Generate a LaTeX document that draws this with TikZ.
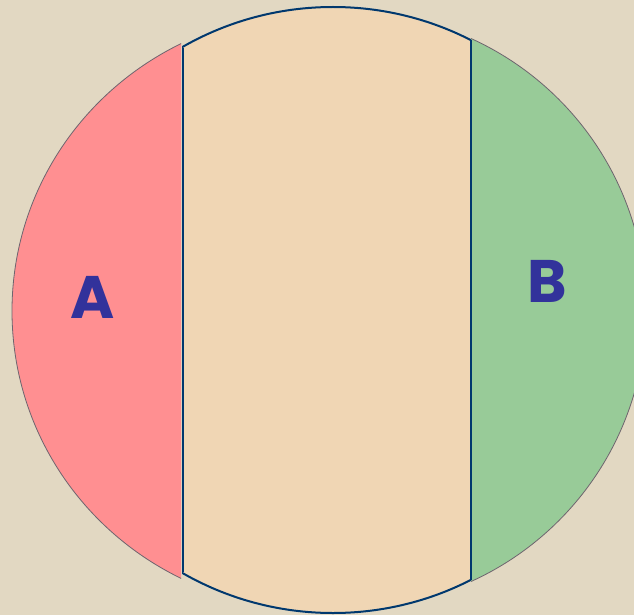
\documentclass[tikz,border=0pt]{standalone}
\usepackage{fontspec}
\newfontfamily\lblfont{Poppins}
\definecolor{bgc}{RGB}{226,216,194}
\definecolor{pinkc}{RGB}{255,143,145}
\definecolor{greenc}{RGB}{152,203,152}
\definecolor{peachc}{RGB}{240,214,180}
\definecolor{navyc}{RGB}{0,56,110}
\definecolor{letterc}{RGB}{50,50,155}
\definecolor{edgec}{RGB}{110,100,110}
\tikzset{
  navyline/.style={draw=navyc, line width=2pt},
  seglabel/.style={text=letterc, font=\lblfont\bfseries\fontsize{60}{60}\selectfont, inner sep=0pt}
}
\begin{document}
\begin{tikzpicture}[x=1pt,y=-1pt]
\fill[bgc] (0,0) rectangle (634,615);
\useasboundingbox (0,0) rectangle (634,615);
% left pink segment
\begin{scope}
  \clip (0,0) rectangle (181,615);
  \fill[pinkc, draw=edgec, line width=0.8pt] (315,311) ellipse [x radius=303, y radius=298];
\end{scope}
% right green segment
\begin{scope}
  \clip (471,0) rectangle (634,615);
  \fill[greenc, draw=edgec, line width=0.8pt] (348,310) circle [radius=298];
\end{scope}
% central band
\begin{scope}
  \clip (182,0) rectangle (471,615);
  \fill[peachc] (333,310) circle [radius=303];
  \draw[navyline] (333,310) circle [radius=303];
\end{scope}
\coordinate (lt) at (182.5,48);
\coordinate (lb) at (182.5,572);
\coordinate (rt) at (471,40);
\coordinate (rb) at (471,580);
\draw[navyline] (lt) -- (lb);
\draw[navyline] (rt) -- (rb);
\node[seglabel] (A) at (93,297) {A};
\node[seglabel] (B) at (547,281) {B};
\end{tikzpicture}
\end{document}
